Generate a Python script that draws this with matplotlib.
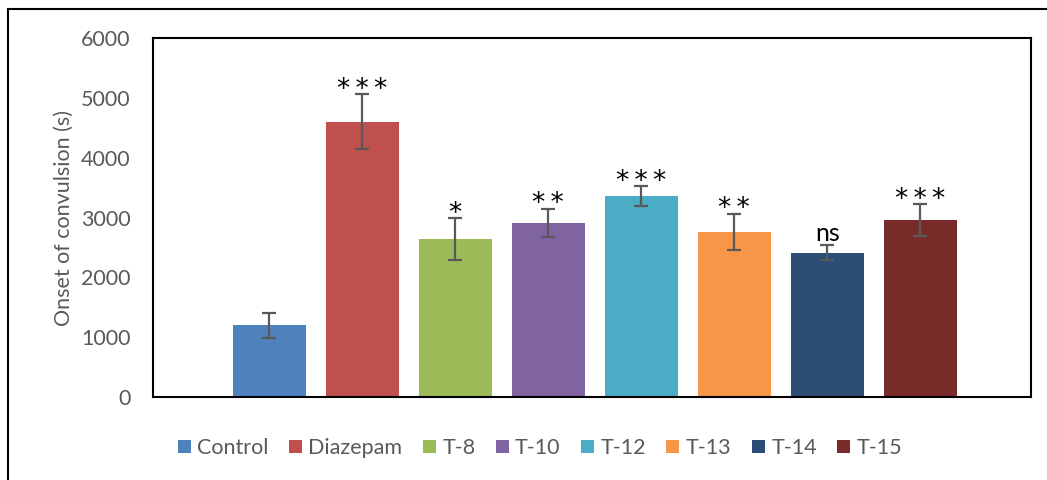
import matplotlib.pyplot as plt
from matplotlib.lines import Line2D
from matplotlib.patches import Patch

groups = ['Control', 'Diazepam', 'T-8', 'T-10', 'T-12', 'T-13', 'T-14', 'T-15']
onset = [1200, 4600, 2640, 2910, 3360, 2760, 2410, 2960]
sem = [210, 460, 345, 237, 160, 305, 125, 265]
signif = ['', '***', '*', '**', '***', '**', 'ns', '***']
colors = ['#4F81BD', '#C0504D', '#9BBB59', '#8064A2', '#4BACC6', '#F79646', '#2C4D75', '#772C2A']

plt.rcParams['font.family'] = ['Lato', 'DejaVu Sans']
grey = '#595959'

fig = plt.figure(figsize=(10.47, 4.8), dpi=100)
ax = fig.add_axes([153 / 1047, 1 - 397 / 480, (1031 - 153) / 1047, (397 - 38) / 480])

x = list(range(len(groups)))
ax.bar(x, onset, width=0.785, color=colors, zorder=2)
ax.errorbar(x, onset, yerr=sem, fmt='none', ecolor=grey, elinewidth=1.6,
            capsize=5, capthick=1.6, zorder=3)

# значимость над планками погрешностей
for xi, v, e, s in zip(x, onset, sem, signif):
    if not s:
        continue
    if s == 'ns':
        ax.annotate(s, (xi, v + e), xytext=(0, 3), textcoords='offset points',
                    ha='center', va='baseline', fontsize=18, color='black')
    else:
        ax.annotate('\u2009'.join(s), (xi, v + e), xytext=(0, -2), textcoords='offset points',
                    ha='center', va='baseline', fontsize=19, color='black',
                    family='DejaVu Sans')

ax.set_xlim(-1.25, 8.19)
ax.set_ylim(0, 6000)
ax.set_yticks(range(0, 6001, 1000))
ax.set_xticks([])
ax.tick_params(axis='y', length=0, pad=16, labelsize=15.5, labelcolor=grey)
ax.set_ylabel('Onset of convulsion (s)', fontsize=15.5, color=grey, labelpad=5)
for sp in ax.spines.values():
    sp.set_linewidth(1.5)
    sp.set_color('black')

handles = [Patch(facecolor=c, edgecolor='none') for c in colors]
leg = fig.legend(handles, groups, loc='center', bbox_to_anchor=(540 / 1047, 1 - 448 / 480),
                 ncol=8, frameon=False, fontsize=15.5, handlelength=0.6, handleheight=0.6,
                 handletextpad=0.3, columnspacing=0.95)
for t in leg.get_texts():
    t.set_color(grey)

# внешняя рамка
fig.add_artist(Line2D([8 / 1047, 8 / 1047], [0, 1 - 9 / 480], color='black', lw=1.5))
fig.add_artist(Line2D([8 / 1047, 1], [1 - 9 / 480, 1 - 9 / 480], color='black', lw=1.5))

fig.savefig('out.png', dpi=100)
